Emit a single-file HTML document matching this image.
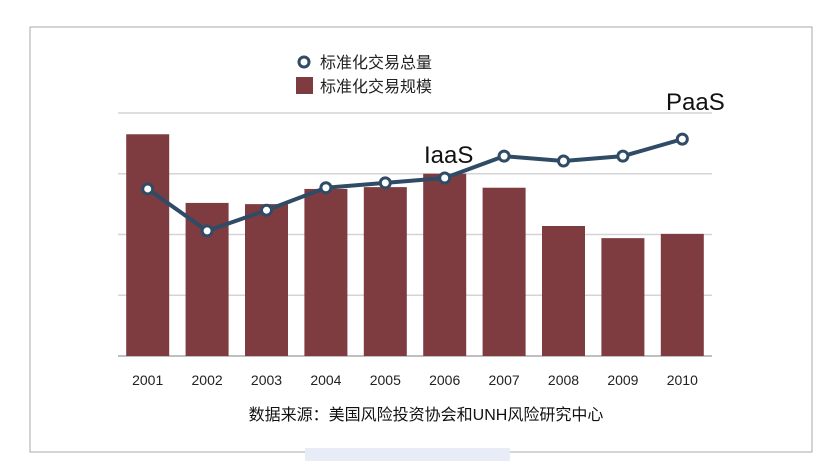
<!DOCTYPE html>
<html><head><meta charset="utf-8"><style>
body{margin:0;background:#fff;width:839px;height:461px;overflow:hidden;font-family:"Liberation Sans","Noto Sans CJK SC",sans-serif;}
svg{position:absolute;left:0;top:0}
</style></head><body>
<svg width="839" height="461">
<rect x="30" y="27" width="782" height="425" fill="#fff" stroke="#a8a8a8" stroke-width="1"/>
<rect x="305" y="448" width="205" height="13" fill="#e8ecf6"/>
<g id="grid"></g><g id="bars"></g><g id="line"></g><g id="xlabels"></g>
<g>
<circle cx="304" cy="62" r="5" fill="#fff" stroke="#2f4b66" stroke-width="3"/>
<text x="320" y="68" font-size="16" fill="#222">标准化交易总量</text>
<rect x="296" y="77" width="17" height="17" fill="#7e3c40"/>
<text x="320" y="92" font-size="16" fill="#222">标准化交易规模</text>
</g>
<text x="424" y="163" font-size="24" fill="#111">IaaS</text>
<text x="666" y="110" font-size="24" fill="#111">PaaS</text>
<text x="426" y="420" font-size="16" fill="#111" text-anchor="middle">数据来源：美国风险投资协会和UNH风险研究中心</text>
</svg>
<script>
const categories=["2001","2002","2003","2004","2005","2006","2007","2008","2009","2010"];
const barValues=[3.65,2.52,2.50,2.75,2.78,3.0,2.77,2.14,1.94,2.01];
const lineValues=[2.75,2.06,2.40,2.77,2.85,2.93,3.29,3.21,3.29,3.57];
const gridTicks=[1,2,3,4];
const NS="http://www.w3.org/2000/svg";
const x0=118,x1=712,yBase=356,unit=60.75;
const step=(x1-x0)/categories.length;
const xs=i=>x0+step*(i+0.5);
const ys=v=>yBase-v*unit;
function mk(t,a,p){const e=document.createElementNS(NS,t);for(const k in a)e.setAttribute(k,a[k]);p.appendChild(e);return e;}
const grid=document.getElementById('grid');
gridTicks.forEach(t=>{
const l=mk('line',{x1:x0,x2:x1,y1:ys(t),y2:ys(t),stroke:'#d4d4d4','stroke-width':1.5},grid);


});
const ax=mk('line',{x1:x0,x2:x1,y1:yBase,y2:yBase,stroke:'#aaa','stroke-width':1.5},grid);


const bars=document.getElementById('bars');
barValues.forEach((v,i)=>{
const r=mk('rect',{x:xs(i)-21.5,y:ys(v),width:43,height:yBase-ys(v),fill:'#7e3c40'},bars);


});
const lg=document.getElementById('line');
const pts=lineValues.map((v,i)=>xs(i)+','+ys(v)).join(' ');
const pl=mk('polyline',{points:pts,fill:'none',stroke:'#2f4b66','stroke-width':4,'stroke-linejoin':'round'},lg);


lineValues.forEach((v,i)=>{
const c=mk('circle',{cx:xs(i),cy:ys(v),r:5,fill:'#fff',stroke:'#2f4b66','stroke-width':3},lg);


});
const xl=document.getElementById('xlabels');
categories.forEach((c,i)=>{
const t=mk('text',{x:xs(i),y:385,'font-size':14,'text-anchor':'middle',fill:'#222'},xl);
t.textContent=c;


});
</script>
</body></html>
